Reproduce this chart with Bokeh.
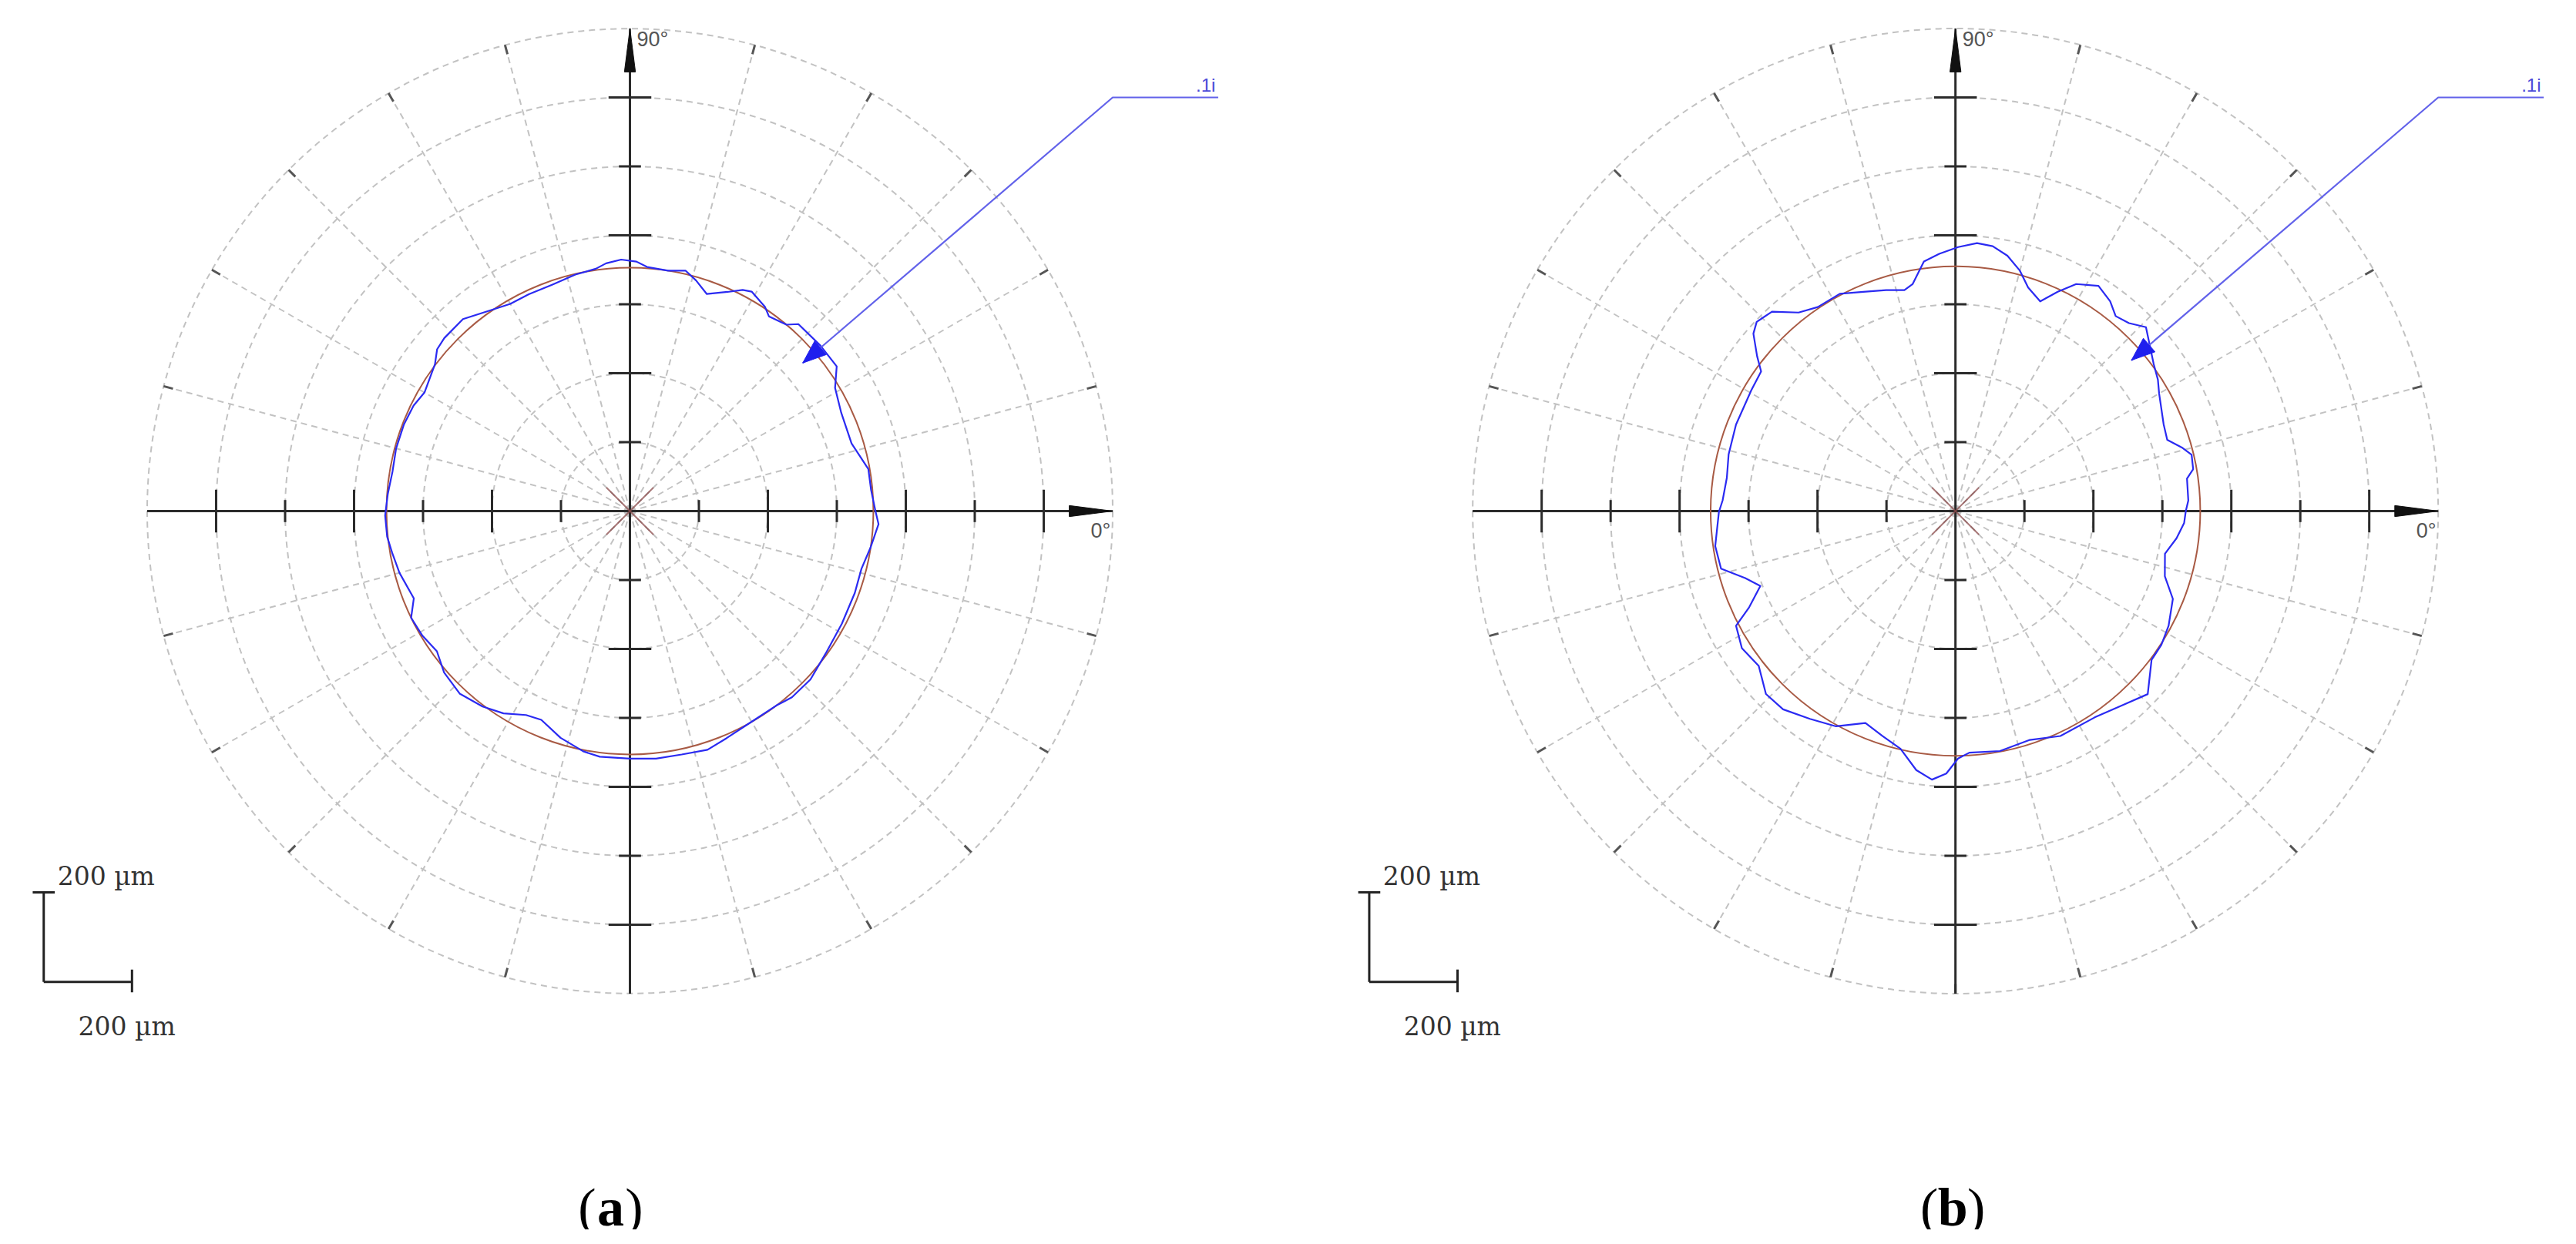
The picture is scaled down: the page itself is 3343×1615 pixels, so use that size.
import numpy as np
from bokeh.plotting import figure
from bokeh.models import Range1d
from bokeh.embed import file_html
from bokeh.resources import INLINE
from bokeh.core.properties import value

# ---------------- data ----------------
RING_RADII = [1, 2, 3, 4, 5, 6, 7]
SPOKE_ANGLES = list(range(0, 360, 15))
MAJOR_TICKS = [-6, -4, -2, 2, 4, 6]
MINOR_TICKS = [-5, -3, -1, 1, 3, 5]
AXIS_LABEL_X = "0°"
AXIS_LABEL_Y = "90°"
FIT_RADIUS = [3.53, 3.55]
LEADER_LABEL = ".1i"
SCALE_TEXT = "200 µm"
SCALE_LEN = 1.3
CAPTIONS = ["a", "b"]

theta_a = [0, 5, 10, 17, 25, 31, 35, 41, 48, 50, 54.5, 56.5, 61, 63, 66, 70.5, 74, 77, 81, 86,
           88.5, 92, 95.5, 98, 103, 109, 115, 120, 125, 131, 137, 140, 143, 146, 150, 154, 159, 165,
           170.5, 176, 181, 186, 190, 195, 202, 206, 211, 216, 221, 227, 233, 238, 243, 247, 253,
           259, 263, 270, 276, 282, 288, 293, 299.5, 307, 311, 317, 324, 332, 340, 346, 351.5, 357]
r_a = [3.56, 3.51, 3.51, 3.36, 3.38, 3.47, 3.66, 3.66, 3.65, 3.53, 3.47, 3.55, 3.64, 3.60, 3.48,
       3.34, 3.48, 3.58, 3.53, 3.55, 3.62, 3.65, 3.61, 3.55, 3.52, 3.47, 3.47, 3.47, 3.55, 3.69,
       3.68, 3.65, 3.54, 3.49, 3.44, 3.49, 3.51, 3.51, 3.49, 3.52, 3.55, 3.54, 3.50, 3.46, 3.38,
       3.53, 3.51, 3.46, 3.57, 3.62, 3.55, 3.46, 3.32, 3.29, 3.44, 3.55, 3.59, 3.59, 3.61, 3.61,
       3.64, 3.58, 3.53, 3.53, 3.58, 3.58, 3.51, 3.48, 3.47, 3.46, 3.53, 3.61]

theta_b = [0, 2.6, 8, 10, 13.4, 15.7, 18.6, 22.6, 30, 33, 36.6, 44, 47.3, 50.6, 53.6, 57.6, 62, 65,
           68, 72, 75, 78.5, 82, 85.4, 89.4, 93.6, 97.2, 100.7, 103, 107.4, 112.8, 118, 124, 128.3,
           132.6, 136.4, 138.7, 142, 144.3, 149.4, 158.5, 166, 171.7, 177.4, 180.2, 188.3, 193.8,
           197.7, 201, 205, 207.6, 212.7, 218.2, 224, 229, 235, 241, 247, 252, 257, 261.4, 265, 268,
           270.6, 273.3, 280.5, 288, 295, 304, 310.5, 316.4, 322.8, 327, 331.7, 338, 342.7, 348.5,
           353, 357]
r_b = [3.34, 3.38, 3.39, 3.50, 3.52, 3.41, 3.24, 3.27, 3.41, 3.50, 3.58, 3.84, 3.71, 3.66, 3.78,
       3.87, 3.73, 3.51, 3.28, 3.41, 3.61, 3.78, 3.88, 3.90, 3.83, 3.74, 3.65, 3.35, 3.29, 3.36,
       3.45, 3.57, 3.57, 3.67, 3.93, 3.98, 3.90, 3.65, 3.47, 3.44, 3.42, 3.39, 3.35, 3.38, 3.43,
       3.52, 3.50, 3.20, 3.03, 3.30, 3.59, 3.68, 3.63, 3.82, 3.81, 3.68, 3.57, 3.34, 3.43, 3.54,
       3.80, 3.91, 3.81, 3.59, 3.51, 3.54, 3.49, 3.60, 3.61, 3.71, 3.85, 3.57, 3.56, 3.51, 3.40,
       3.18, 3.10, 3.23, 3.32]

PROFILES = [(theta_a, r_a), (theta_b, r_b)]
ARROW_TIP_R = [3.30, 3.36]

# ---------------- layout / style ----------------
W, H = 3320, 1596
PPU = 89.5                      # pixels per radial unit
CX_PX, CY_PX = 817, 663         # canvas position of panel (a) centre
PANEL_X = [0.0, 19.22]
CAPTION_DX = [-0.28, -0.04]
R_OUT = 7.0
KNEE = (7.0, 6.0)
LEADER_END = 8.53

GRID_COL = "#c2c2c2"
AXIS_COL = "#2b2b2b"
FIT_COL = "#a85a44"
PROF_COL = "#2a2af2"
LEAD_COL = "#6262ea"

p = figure(width=W, height=H,
           x_range=Range1d(-CX_PX / PPU, (W - CX_PX) / PPU),
           y_range=Range1d(-(H - CY_PX) / PPU, CY_PX / PPU),
           output_backend="svg", toolbar_location=None,
           x_axis_location=None, y_axis_location=None,
           min_border=0, outline_line_color=None,
           background_fill_color="white", border_fill_color="white")
p.grid.visible = False

for k, cx in enumerate(PANEL_X):
    # dashed rings
    p.circle(x=[cx] * len(RING_RADII), y=[0] * len(RING_RADII), radius=RING_RADII,
             fill_color=None, line_color=GRID_COL, line_width=2, line_dash="8 6")
    # dashed spokes
    ang = np.radians(SPOKE_ANGLES)
    p.segment(x0=[cx] * len(ang), y0=[0] * len(ang),
              x1=cx + R_OUT * np.cos(ang), y1=R_OUT * np.sin(ang),
              line_color=GRID_COL, line_width=2, line_dash="8 6")
    # dark marks at the spoke ends
    p.segment(x0=cx + 6.86 * np.cos(ang), y0=6.86 * np.sin(ang),
              x1=cx + 7.0 * np.cos(ang), y1=7.0 * np.sin(ang),
              line_color="#555555", line_width=3)

    # axes
    p.segment(x0=[cx - R_OUT, cx], y0=[0, -R_OUT], x1=[cx + 6.5, cx], y1=[0, 6.5],
              line_color=AXIS_COL, line_width=3)
    hl, hw = 0.63, 0.08
    p.patches(xs=[[cx + R_OUT, cx + R_OUT - hl, cx + R_OUT - hl],
                  [cx, cx - hw, cx + hw]],
              ys=[[0, hw, -hw], [R_OUT, R_OUT - hl, R_OUT - hl]],
              fill_color="#111111", line_color="#111111", line_width=1)
    # ticks
    for ticks, half in ((MAJOR_TICKS, 0.31), (MINOR_TICKS, 0.16)):
        t = np.array(ticks, dtype=float)
        p.segment(x0=cx + t, y0=[-half] * len(t), x1=cx + t, y1=[half] * len(t),
                  line_color=AXIS_COL, line_width=3)
        p.segment(x0=[cx - half] * len(t), y0=t, x1=[cx + half] * len(t), y1=t,
                  line_color=AXIS_COL, line_width=3)
    # axis labels
    p.text(x=[cx + 6.97], y=[-0.12], text=[AXIS_LABEL_X], text_align="right",
           text_baseline="top", text_font=value("Liberation Sans"), text_font_size="27px",
           text_color="#555555")
    p.text(x=[cx + 0.1], y=[7.01], text=[AXIS_LABEL_Y], text_align="left",
           text_baseline="top", text_font=value("Liberation Sans"), text_font_size="27px",
           text_color="#555555")

    # centre cross
    c = 0.34
    p.segment(x0=[cx - c, cx - c], y0=[-c, c], x1=[cx + c, cx + c], y1=[c, -c],
              line_color="#8b4a4a", line_alpha=0.75, line_width=2)

    # fitted circle
    p.circle(x=[cx], y=[0], radius=[FIT_RADIUS[k]], fill_color=None,
             line_color=FIT_COL, line_width=2)

    # measured profile
    th, rr = PROFILES[k]
    th = np.radians(np.array(th + [th[0]], dtype=float))
    rr = np.array(rr + [rr[0]], dtype=float)
    p.line(cx + rr * np.cos(th), rr * np.sin(th), line_color=PROF_COL, line_width=2.2,
           line_join="round")

    # leader with arrow head
    phi = np.arctan2(KNEE[1], KNEE[0])
    tip = ARROW_TIP_R[k]
    p.line([cx + tip * np.cos(phi), cx + KNEE[0], cx + LEADER_END],
           [tip * np.sin(phi), KNEE[1], KNEE[1]], line_color=LEAD_COL, line_width=2.2)
    al, aw = 0.34, 0.13
    bx, by = (tip + al) * np.cos(phi), (tip + al) * np.sin(phi)
    nx, ny = -np.sin(phi), np.cos(phi)
    p.patch([cx + tip * np.cos(phi), cx + bx + aw * nx, cx + bx - aw * nx],
            [tip * np.sin(phi), by + aw * ny, by - aw * ny],
            fill_color="#1f1fee", line_color="#1f1fee", line_width=1)
    p.text(x=[cx + LEADER_END - 0.04], y=[KNEE[1] + 0.03], text=[LEADER_LABEL],
           text_align="right", text_baseline="bottom", text_font=value("Liberation Sans"),
           text_font_size="24px", text_color="#4a4ad8")

    # scale bar
    sx, sy = cx - 8.5, -6.83
    p.segment(x0=[sx, sx, sx - 0.16, sx + SCALE_LEN - 0.02],
              y0=[sy, sy, sy + SCALE_LEN, sy + 0.18],
              x1=[sx, sx + SCALE_LEN - 0.02, sx + 0.16, sx + SCALE_LEN - 0.02],
              y1=[sy + SCALE_LEN, sy, sy + SCALE_LEN, sy - 0.15],
              line_color="#222222", line_width=3)
    p.text(x=[sx + 0.2, sx + 0.5], y=[sy + SCALE_LEN + 0.23, sy - 0.64],
           text=[SCALE_TEXT, SCALE_TEXT], text_align="left", text_baseline="alphabetic",
           text_font=value("DejaVu Serif"), text_font_size="33px", text_color="#333333")

    # caption "(a)" / "(b)"
    capx = cx + CAPTION_DX[k]
    capy = -10.1
    p.text(x=[capx], y=[capy], text=[CAPTIONS[k]], text_align="center",
           text_baseline="alphabetic", text_font=value("Liberation Serif"),
           text_font_size="70px", text_font_style="bold", text_color="black")
    p.text(x=[capx - 0.21], y=[capy], text=["("], text_align="right",
           text_baseline="alphabetic", text_font=value("Liberation Serif"),
           text_font_size="70px", text_color="black")
    p.text(x=[capx + 0.21], y=[capy], text=[")"], text_align="left",
           text_baseline="alphabetic", text_font=value("Liberation Serif"),
           text_font_size="70px", text_color="black")

open("out.html", "w").write(file_html(p, INLINE))
